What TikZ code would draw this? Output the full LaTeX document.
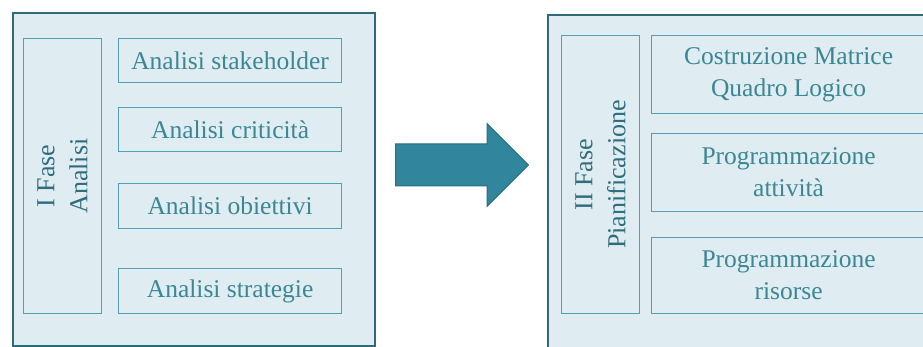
\documentclass[tikz,border=0pt]{standalone}
\usepackage{fontspec}
\setmainfont{Liberation Serif}
\usetikzlibrary{shapes.arrows}
\definecolor{phaseline}{HTML}{2F6B79}
\definecolor{boxline}{HTML}{4EA2B3}
\definecolor{boxfill}{HTML}{DFECF1}
\definecolor{boxtext}{HTML}{3B8794}
\definecolor{labeltext}{HTML}{2E6E7C}
\definecolor{arrowfill}{HTML}{31859C}
\definecolor{arrowline}{HTML}{2A6E80}

\begin{document}
\begin{tikzpicture}[
    x=1pt, y=-1pt,
    phase/.style={rectangle, draw=phaseline, fill=boxfill, line width=2pt, anchor=north west, inner sep=0pt},
    side/.style={rectangle, draw=boxline, line width=1.2pt, anchor=north west, inner sep=0pt, minimum width=78pt, minimum height=275pt},
    task/.style={rectangle, draw=boxline, line width=1.2pt, anchor=north west, inner sep=0pt, text=boxtext, align=center, font=\fontsize{25.5}{32}\selectfont},
    phaselabel/.style={rotate=90, align=center, text=labeltext, font=\fontsize{26}{33}\selectfont},
    bigarrow/.style={single arrow, draw=arrowline, fill=arrowfill, line width=1pt, minimum height=133pt, inner xsep=0pt, inner ysep=20.5pt, single arrow head extend=20.5pt, single arrow tip angle=90}
]
\clip (0,0) rectangle (923,347);

% first phase
\node[phase, minimum width=362pt, minimum height=333pt] (analisi) at (12,12) {};
\node[side] (analisiside) at (23,38) {};
\node[phaselabel] (analisilabel) at (analisiside.center) {I Fase\\Analisi};
\node[task, minimum width=223pt, minimum height=44pt] (stake) at (118,38) {Analisi stakeholder};
\node[task, minimum width=223pt, minimum height=44pt] (crit) at (118,107) {Analisi criticità};
\node[task, minimum width=223pt, minimum height=45pt] (obiet) at (118,183) {Analisi obiettivi};
\node[task, minimum width=223pt, minimum height=45pt] (strat) at (118,268) {Analisi strategie};

% arrow between phases
\node[bigarrow, anchor=tail] (next) at (395,165) {};

% second phase
\node[phase, minimum width=400pt, minimum height=400pt] (pianif) at (547,14) {};
\node[side, minimum height=278pt] (pianifside) at (561,35) {};
\node[phaselabel] (pianiflabel) at (pianifside.center) {II Fase\\Pianificazione};
\node[task, minimum width=274pt, minimum height=78pt] (matrice) at (651,35) {Costruzione Matrice\\Quadro Logico};
\node[task, minimum width=274pt, minimum height=78pt] (attiv) at (651,133) {Programmazione\\attività};
\node[task, minimum width=274pt, minimum height=76pt] (risorse) at (651,237) {Programmazione\\risorse};

\end{tikzpicture}
\end{document}
